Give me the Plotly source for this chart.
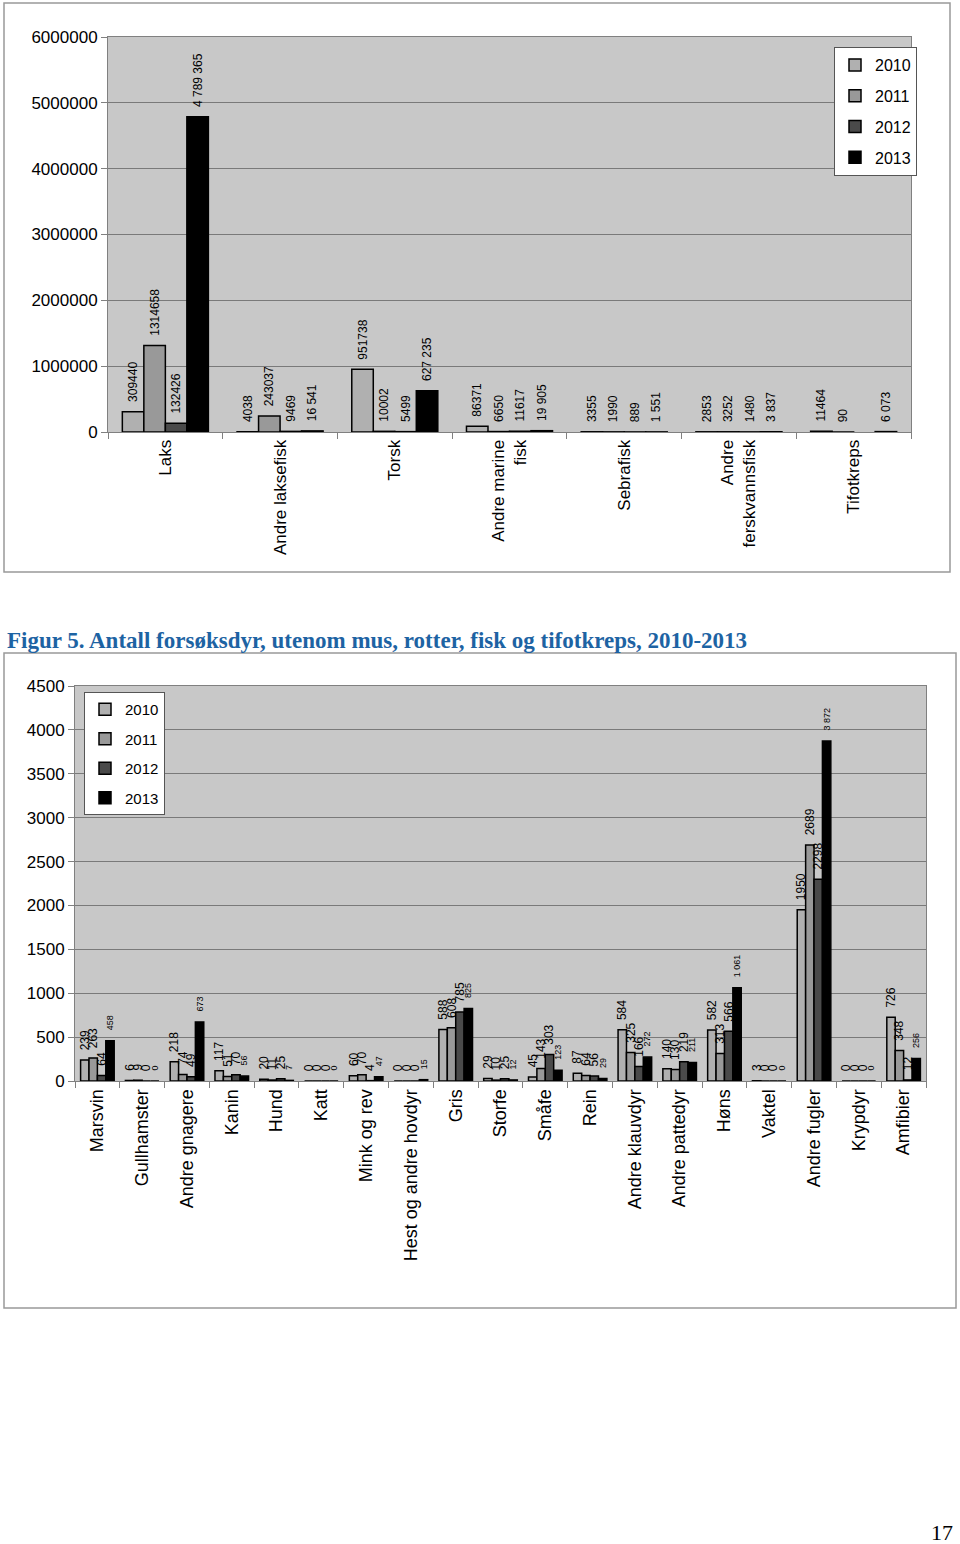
import plotly.graph_objects as go

W, H = 960, 1544

years = ["2010", "2011", "2012", "2013"]
bar_colors = ["#b0b0b0", "#999999", "#4a4a4a", "#000000"]

# top chart: fisk og tifotkreps
fish_cats = ["Laks", "Andre laksefisk", "Torsk", "Andre marine<br>fisk", "Sebrafisk",
             "Andre<br>ferskvannsfisk", "Tifotkreps"]
fish_2010 = [309440, 4038, 951738, 86371, 3355, 2853, 11464]
fish_2011 = [1314658, 243037, 10002, 6650, 1990, 3252, 90]
fish_2012 = [132426, 9469, 5499, 11617, 889, 1480, None]
fish_2013 = [4789365, 16541, 627235, 19905, 1551, 3837, 6073]
fish_ticks = [0, 1000000, 2000000, 3000000, 4000000, 5000000, 6000000]

# bottom chart: andre forsoksdyr
animal_cats = ["Marsvin", "Gullhamster", "Andre gnagere", "Kanin", "Hund", "Katt", "Mink og rev",
               "Hest og andre hovdyr", "Gris", "Storfe", "Småfe", "Rein", "Andre klauvdyr",
               "Andre pattedyr", "Høns", "Vaktel", "Andre fugler", "Krypdyr", "Amfibier"]
animal_2010 = [239, 6, 218, 117, 20, 0, 60, 0, 588, 29, 45, 87, 584, 140, 582, 3, 1950, 0, 726]
animal_2011 = [263, 9, 74, 51, 11, 0, 70, 0, 608, 10, 143, 64, 325, 130, 313, 0, 2689, 0, 348]
animal_2012 = [64, 0, 49, 70, 25, 0, 4, 0, 785, 25, 303, 56, 166, 219, 566, 0, 2298, 0, 12]
animal_2013 = [458, 0, 673, 56, 7, 0, 47, 15, 825, 12, 123, 29, 272, 211, 1061, 0, 3872, 0, 256]
animal_ticks = [0, 500, 1000, 1500, 2000, 2500, 3000, 3500, 4000, 4500]

FONT = "Arial, Liberation Sans, sans-serif"
SERIF = "Liberation Serif, Times New Roman, serif"
NBSP = "\u00a0"


def lab(v, spaced, pad):
    # labels for 2013 use space as thousands separator, the rest none
    if v is None:
        return ""
    s = "{:,}".format(v).replace(",", " ") if spaced else str(v)
    return NBSP * pad + s


fig = go.Figure()

fish_series = [fish_2010, fish_2011, fish_2012, fish_2013]
for i, vals in enumerate(fish_series):
    fig.add_trace(go.Bar(
        x=fish_cats, y=vals, name=years[i], legendgroup=years[i],
        marker=dict(color=bar_colors[i], line=dict(color="black", width=1.5)),
        text=[lab(v, i == 3, 2) for v in vals], textposition="outside", textangle=-90,
        textfont=dict(family=FONT, size=12, color="black"), constraintext="none",
        cliponaxis=False, xaxis="x", yaxis="y", legend="legend",
    ))

animal_series = [animal_2010, animal_2011, animal_2012, animal_2013]
for i, vals in enumerate(animal_series):
    fig.add_trace(go.Bar(
        x=animal_cats, y=vals, name=years[i], legendgroup="b" + years[i],
        marker=dict(color=bar_colors[i], line=dict(color="black", width=1.5)),
        text=[lab(v, i == 3, 3 if i == 3 else 2) for v in vals], textposition="outside", textangle=-90,
        textfont=dict(family=FONT, size=9 if i == 3 else 12, color="black"), constraintext="none",
        cliponaxis=False, xaxis="x2", yaxis="y2", legend="legend2",
    ))


def px_x(p):
    return p / W


def px_y(p):
    return 1 - p / H


frame = dict(showline=True, linecolor="#808080", linewidth=1, mirror=True, automargin=False)

fig.update_layout(
    template="none",
    width=W, height=H, margin=dict(l=0, r=0, t=0, b=0, pad=0, autoexpand=False),
    paper_bgcolor="white", plot_bgcolor="#c8c8c8",
    barmode="group", bargap=0.25, bargroupgap=0,
    showlegend=True,
    xaxis=dict(domain=[px_x(108), px_x(911)], anchor="y", type="category",
               tickangle=-90, ticks="outside", ticklen=6, tickcolor="#808080",
               tickson="boundaries", showgrid=False,
               tickfont=dict(family=FONT, size=17, color="black"), **frame),
    yaxis=dict(domain=[px_y(432), px_y(37)], anchor="x", range=[0, 6000000],
               tickvals=fish_ticks, tickformat="d", ticks="outside", ticklen=6,
               tickcolor="#808080", showgrid=True, gridcolor="#7a7a7a", gridwidth=1,
               zeroline=False, tickfont=dict(family=FONT, size=17, color="black"), **frame),
    xaxis2=dict(domain=[px_x(75), px_x(926)], anchor="y2", type="category",
                tickangle=-90, ticks="outside", ticklen=6, tickcolor="#808080",
                tickson="boundaries", showgrid=False,
                tickfont=dict(family=FONT, size=18, color="black"), **frame),
    yaxis2=dict(domain=[px_y(1081), px_y(686)], anchor="x2", range=[0, 4500],
                tickvals=animal_ticks, tickformat="d", ticks="outside", ticklen=6,
                tickcolor="#808080", showgrid=True, gridcolor="#7a7a7a", gridwidth=1,
                zeroline=False, tickfont=dict(family=FONT, size=17, color="black"), **frame),
    legend=dict(x=px_x(834), y=px_y(47), xanchor="left", yanchor="top",
                bgcolor="white", bordercolor="#555555", borderwidth=1,
                font=dict(family=FONT, size=16, color="black"),
                tracegroupgap=7, itemwidth=30),
    legend2=dict(x=px_x(84), y=px_y(692), xanchor="left", yanchor="top",
                 bgcolor="white", bordercolor="#555555", borderwidth=1,
                 font=dict(family=FONT, size=15, color="black"),
                 tracegroupgap=7, itemwidth=30),
    shapes=[
        dict(type="rect", xref="paper", yref="paper", x0=px_x(4), x1=px_x(950),
             y0=px_y(572), y1=px_y(3), line=dict(color="#999999", width=1.5)),
        dict(type="rect", xref="paper", yref="paper", x0=px_x(4), x1=px_x(956),
             y0=px_y(1308), y1=px_y(653), line=dict(color="#999999", width=1.5)),
    ],
    annotations=[
        dict(text="<b>Figur 5. Antall forsøksdyr, utenom mus, rotter, fisk og tifotkreps, 2010-2013</b>",
             xref="paper", yref="paper", x=px_x(5), y=px_y(641), xanchor="left", yanchor="middle",
             showarrow=False, font=dict(family=SERIF, size=23, color="#1d63a3")),
        dict(text="17", xref="paper", yref="paper", x=px_x(955), y=px_y(1532),
             xanchor="right", yanchor="middle", showarrow=False,
             font=dict(family=SERIF, size=22, color="black")),
    ],
)

# page has a default 8px body margin, drop it so the figure sits at 0,0
fig.write_html("out.html", config={"displayModeBar": False},
               post_script="document.body.style.margin='0';")
